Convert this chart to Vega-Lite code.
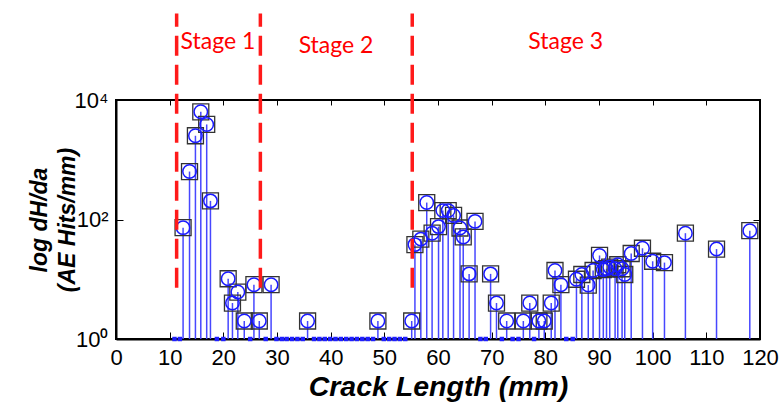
{
  "$schema": "https://vega.github.io/schema/vega-lite/v6.json",
  "width": 644,
  "height": 239,
  "autosize": {"type": "none"},
  "padding": {"left": 116, "top": 100, "right": 24, "bottom": 69},
  "background": "white",
  "config": {
    "view": {"stroke": "black", "strokeWidth": 2},
    "axis": {"grid": false, "domainColor": "black", "domainWidth": 2, "tickColor": "black", "labelColor": "black", "titleColor": "black"}
  },
  "datasets": {
    "pts": [
      {"x": 10.9, "v": 0}, {"x": 11.9, "v": 0},
      {"x": 12.5, "v": 73}, {"x": 13.7, "v": 635}, {"x": 14.8, "v": 2520}, {"x": 15.8, "v": 6350},
      {"x": 16.9, "v": 3900}, {"x": 17.6, "v": 205},
      {"x": 18.8, "v": 0}, {"x": 20.0, "v": 0},
      {"x": 20.9, "v": 10.2}, {"x": 21.7, "v": 4.0}, {"x": 22.7, "v": 6.1}, {"x": 23.9, "v": 2},
      {"x": 25.0, "v": 0}, {"x": 25.7, "v": 8.1}, {"x": 26.7, "v": 2}, {"x": 27.9, "v": 0}, {"x": 28.9, "v": 8.1},
      {"x": 29.9, "v": 0}, {"x": 30.9, "v": 0}, {"x": 31.8, "v": 0}, {"x": 32.8, "v": 0}, {"x": 33.8, "v": 0}, {"x": 34.8, "v": 0},
      {"x": 35.7, "v": 2},
      {"x": 36.9, "v": 0}, {"x": 37.9, "v": 0}, {"x": 38.9, "v": 0}, {"x": 39.9, "v": 0}, {"x": 40.9, "v": 0}, {"x": 41.9, "v": 0},
      {"x": 42.9, "v": 0}, {"x": 43.9, "v": 0}, {"x": 44.9, "v": 0}, {"x": 45.9, "v": 0}, {"x": 46.9, "v": 0}, {"x": 47.9, "v": 0},
      {"x": 48.8, "v": 2},
      {"x": 49.9, "v": 0}, {"x": 50.9, "v": 0}, {"x": 51.9, "v": 0}, {"x": 52.9, "v": 0}, {"x": 53.9, "v": 0},
      {"x": 55.1, "v": 2}, {"x": 55.7, "v": 38}, {"x": 56.8, "v": 47}, {"x": 57.9, "v": 192}, {"x": 58.9, "v": 59},
      {"x": 60.1, "v": 76}, {"x": 60.9, "v": 141}, {"x": 61.9, "v": 141}, {"x": 62.9, "v": 117}, {"x": 64.1, "v": 72},
      {"x": 64.7, "v": 51}, {"x": 65.8, "v": 12.3}, {"x": 66.9, "v": 93},
      {"x": 67.9, "v": 0}, {"x": 68.9, "v": 0},
      {"x": 69.8, "v": 12.3}, {"x": 70.9, "v": 4}, {"x": 71.9, "v": 0}, {"x": 72.8, "v": 2}, {"x": 73.9, "v": 0}, {"x": 75.0, "v": 0},
      {"x": 75.9, "v": 2}, {"x": 77.1, "v": 4}, {"x": 77.9, "v": 0}, {"x": 78.8, "v": 2}, {"x": 79.8, "v": 2}, {"x": 81.1, "v": 4},
      {"x": 81.8, "v": 14}, {"x": 82.9, "v": 8.1}, {"x": 83.9, "v": 0}, {"x": 85.1, "v": 0},
      {"x": 85.8, "v": 10}, {"x": 86.8, "v": 12}, {"x": 88.0, "v": 8}, {"x": 88.9, "v": 14}, {"x": 90.1, "v": 25},
      {"x": 90.8, "v": 14.5}, {"x": 91.4, "v": 15}, {"x": 92.0, "v": 16}, {"x": 93.0, "v": 15}, {"x": 93.5, "v": 17.5},
      {"x": 94.3, "v": 15}, {"x": 94.8, "v": 12}, {"x": 96.0, "v": 27}, {"x": 98.1, "v": 33}, {"x": 100.0, "v": 20},
      {"x": 102.2, "v": 19}, {"x": 106.1, "v": 59}, {"x": 111.9, "v": 32}, {"x": 118.1, "v": 65}
    ],
    "bounds": [{"x": 11.3}, {"x": 26.9}, {"x": 55.2}],
    "stages": [
      {"stage": "Stage 1", "x": 19.0, "y": 92000},
      {"stage": "Stage 2", "x": 41.0, "y": 79000},
      {"stage": "Stage 3", "x": 83.8, "y": 92000}
    ]
  },
  "layer": [
    {
      "data": {"name": "pts"},
      "transform": [{"filter": "datum.v > 0"}],
      "mark": {"type": "rule", "color": "#4747ff", "strokeWidth": 1.5},
      "encoding": {
        "x": {"field": "x", "type": "quantitative",
          "scale": {"domain": [0, 120], "nice": false, "zero": false},
          "axis": {"values": [0,10,20,30,40,50,60,70,80,90,100,110,120], "labelOverlap": false, "labelBound": false, "labelFlush": false,
            "labelFont": "Liberation Sans", "labelFontSize": 22,
            "tickSize": -7, "labelPadding": 15, "title": "Crack Length (mm)", "titleFont": "Liberation Sans",
            "titleFontSize": 28.5, "titleFontWeight": "bold", "titleFontStyle": "italic", "titlePadding": 4}},
        "y": {"field": "v", "type": "quantitative",
          "scale": {"type": "log", "domain": [1, 10000], "nice": false},
          "axis": {"values": [1, 100, 10000], "labelOverlap": false, "labelFont": "Liberation Sans", "labelFontSize": 22, "tickSize": -7, "labelPadding": 15,
            "labelExpr": "datum.value >= 10000 ? '10⁴' : datum.value >= 100 ? '10²' : '10⁰'",
            "title": ["log dH/da", "(AE Hits/mm)"], "titleFont": "Liberation Sans", "titleFontSize": 23,
            "titleFontWeight": "bold", "titleFontStyle": "italic", "titlePadding": -5, "titleLineHeight": 28}},
        "y2": {"datum": 1}
      }
    },
    {
      "data": {"name": "pts"},
      "transform": [{"filter": "datum.v == 0"}],
      "mark": {"type": "point", "shape": "square", "filled": true, "color": "#1f1fff", "size": 20, "opacity": 1, "clip": false},
      "encoding": {
        "x": {"field": "x", "type": "quantitative", "axis": null},
        "y": {"datum": 1, "axis": null}
      }
    },
    {
      "data": {"name": "pts"},
      "transform": [{"filter": "datum.v > 0"}],
      "mark": {"type": "point", "shape": "square", "filled": false, "stroke": "#333333", "strokeWidth": 1.3, "size": 256, "opacity": 1},
      "encoding": {
        "x": {"field": "x", "type": "quantitative",
          "axis": {"orient": "top", "values": [0,10,20,30,40,50,60,70,80,90,100,110,120], "labels": false, "tickSize": -5, "title": null, "domain": false}},
        "y": {"field": "v", "type": "quantitative",
          "axis": {"orient": "right", "values": [1, 100, 10000], "labels": false, "tickSize": -7, "title": null, "domain": false}}
      }
    },
    {
      "data": {"name": "pts"},
      "transform": [{"filter": "datum.v > 0"}],
      "mark": {"type": "point", "shape": "circle", "filled": false, "stroke": "#1a1aff", "strokeWidth": 1.5, "size": 180, "opacity": 1},
      "encoding": {
        "x": {"field": "x", "type": "quantitative", "axis": null},
        "y": {"field": "v", "type": "quantitative", "axis": null}
      }
    },
    {
      "data": {"name": "bounds"},
      "mark": {"type": "rule", "color": "#ff1a1a", "strokeWidth": 3.5, "strokeDash": [20, 9], "clip": false},
      "encoding": {
        "x": {"field": "x", "type": "quantitative", "axis": null},
        "y": {"datum": 7.2, "axis": null},
        "y2": {"datum": 280000}
      }
    },
    {
      "data": {"name": "stages"},
      "mark": {"type": "text", "font": "Lato", "fontSize": 23, "color": "#ff0000", "align": "center", "baseline": "middle", "clip": false},
      "encoding": {
        "x": {"field": "x", "type": "quantitative", "axis": null},
        "y": {"field": "y", "type": "quantitative", "axis": null},
        "text": {"field": "stage"}
      }
    }
  ],
  "resolve": {"axis": {"x": "independent", "y": "independent"}}
}
